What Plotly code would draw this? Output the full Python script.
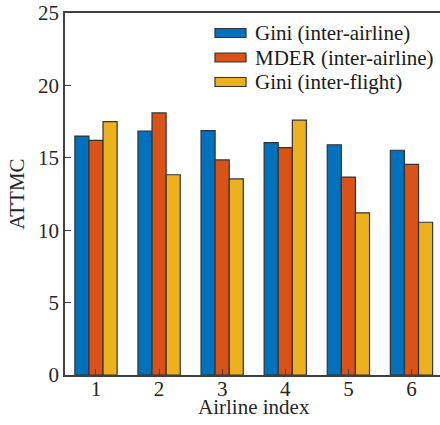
import plotly.graph_objects as go

airlines = [1, 2, 3, 4, 5, 6]
series_names = ["Gini (inter-airline)", "MDER (inter-airline)", "Gini (inter-flight)"]
gini_airline = [16.5, 16.85, 16.87, 16.05, 15.9, 15.52]
mder_airline = [16.2, 18.1, 14.85, 15.7, 13.67, 14.55]
gini_flight = [17.5, 13.83, 13.54, 17.6, 11.2, 10.55]
colors = ["#0072BD", "#D95319", "#EDB120"]
y_ticks = [0, 5, 10, 15, 20, 25]

FONT = "Liberation Serif, Times New Roman, serif"
W, H = 440, 425
# plot area in reference pixels: x 65..440, y 13..375
PL, PR, PT, PB = 65, 440, 13, 375
PW, PH = PR - PL, PB - PT


def px(x):
    return (x - PL) / PW


def py(y):
    return (PB - y) / PH


fig = go.Figure()
for name, vals, c in zip(series_names, [gini_airline, mder_airline, gini_flight], colors):
    fig.add_trace(go.Bar(
        x=airlines, y=vals, name=name,
        marker=dict(color=c, line=dict(color="#333333", width=1.2)),
        showlegend=False,
    ))

shapes = []
annotations = []
row_px = [33, 57.5, 82]
for name, c, yc in zip(series_names, colors, row_px):
    shapes.append(dict(type="rect", xref="paper", yref="paper",
                       x0=px(215), x1=px(246), y0=py(yc + 4.5), y1=py(yc - 4.5),
                       fillcolor=c, line=dict(color="#333333", width=1.2)))
    annotations.append(dict(xref="paper", yref="paper", x=px(253), y=py(yc),
                            xanchor="left", yanchor="middle",
                            text=name, showarrow=False,
                            font=dict(family=FONT, size=21, color="#1a1a1a")))

annotations.append(dict(xref="paper", yref="paper", x=px(254), y=py(407),
                        xanchor="center", yanchor="middle", text="Airline index",
                        showarrow=False, font=dict(family=FONT, size=21, color="#262626")))

fig.update_layout(
    width=W, height=H,
    margin=dict(l=PL, r=W - PR, t=PT, b=H - PB, autoexpand=False),
    plot_bgcolor="white", paper_bgcolor="white",
    barmode="group", bargap=0.33, bargroupgap=0,
    font=dict(family=FONT, size=21, color="#262626"),
    shapes=shapes, annotations=annotations,
)
fig.update_xaxes(
    range=[0.509, 6.452], tickmode="array", tickvals=airlines,
    ticks="inside", ticklen=6, tickwidth=1.2, tickcolor="#404040",
    showline=True, linecolor="#404040", linewidth=1.5, mirror=True,
    showgrid=False, zeroline=False, ticklabelstandoff=-6, automargin=False,
    tickfont=dict(size=21),
)
fig.update_yaxes(
    range=[0, 25], tickmode="array", tickvals=y_ticks,
    ticks="inside", ticklen=6, tickwidth=1.2, tickcolor="#404040",
    showline=True, linecolor="#404040", linewidth=1.5, mirror=False,
    showgrid=False, zeroline=False, ticklabeloverflow="allow", automargin=False,
    title=dict(text="ATTMC", standoff=8, font=dict(size=21)),
    tickfont=dict(size=21),
)

fig.write_html(
    "out.html", config={"displayModeBar": False},
    post_script="document.body.style.margin='0';document.documentElement.style.overflow='hidden';",
)
